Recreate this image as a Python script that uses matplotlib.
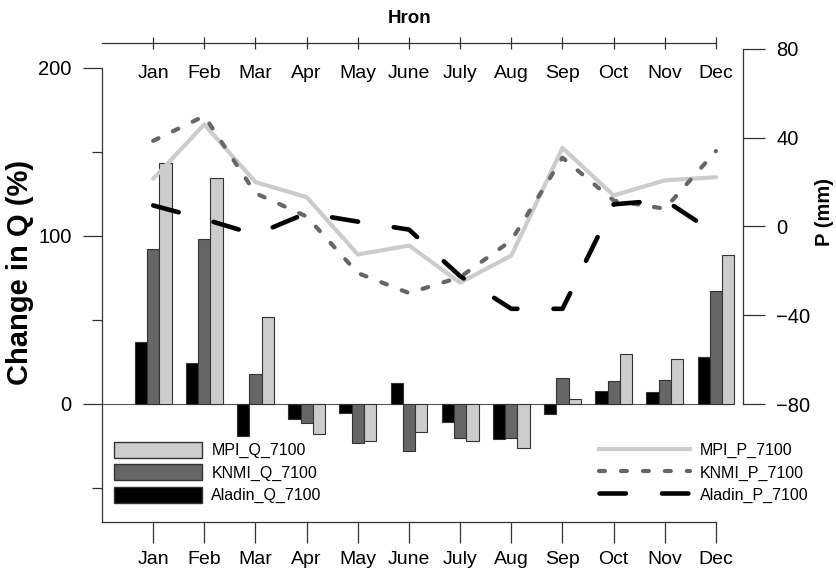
import matplotlib
matplotlib.use('Agg')
import matplotlib.pyplot as plt
from matplotlib.patches import Patch
from matplotlib.lines import Line2D
import numpy as np

plt.rcParams['font.family'] = ['Liberation Sans', 'DejaVu Sans']
plt.rcParams['lines.scale_dashes'] = False

months = ['Jan', 'Feb', 'Mar', 'Apr', 'May', 'June', 'July', 'Aug', 'Sep', 'Oct', 'Nov', 'Dec']

# change in discharge Q (%), 2071-2100
aladin_q = [37, 24.5, -19, -9, -5.5, 12.5, -10.5, -21, -6, 7.7, 7, 28]
knmi_q = [92, 98, 18, -11.5, -23.5, -28, -20, -20, 15.5, 13.7, 14.3, 67]
mpi_q = [143.5, 134.5, 51.8, -18, -22, -16.7, -22, -26, 3, 30, 26.8, 88.5]

# change in precipitation P (mm), 2071-2100
mpi_p = [21.5, 46, 20, 13.2, -12.6, -8.6, -25.3, -13.1, 35.4, 14, 20.8, 22.2]
knmi_p = [38.6, 49.8, 15, 4.5, -21, -30, -22.8, -6.3, 31, 11.7, 8, 34]
aladin_p = [9.5, 3.3, -3.6, 6, 2.2, -1.4, -22.4, -37.1, -37.1, 10, 11.9, -3.3]

x = np.arange(1, 13)
w = 0.24
edge = '#333333'

fig = plt.figure(figsize=(8.36, 5.78), dpi=100)
ax = fig.add_axes([102 / 836, 56 / 578, 641 / 836, 479 / 578])
ax.set_xlim(0, 12.528)
ax.set_ylim(-70.24, 214.88)

ax.plot([0, 12.33], [0, 0], color='#555555', lw=0.8, zorder=1)
ax.bar(x - w, aladin_q, w, color='black', edgecolor=edge, linewidth=0.8, zorder=2)
ax.bar(x, knmi_q, w, color='#666666', edgecolor=edge, linewidth=0.8, zorder=2)
ax.bar(x + w, mpi_q, w, color='#cccccc', edgecolor=edge, linewidth=0.8, zorder=2)

# left / bottom axes
for s in ['top', 'right']:
    ax.spines[s].set_visible(False)
for s in ['left', 'bottom']:
    ax.spines[s].set_color(edge)
    ax.spines[s].set_linewidth(0.9)
ax.spines['bottom'].set_bounds(0, 12)
ax.spines['left'].set_bounds(-70.24, 200)

ax.set_xticks(x, months)
ax.tick_params(axis='x', length=15, width=0.9, color=edge, pad=6, labelsize=14)
ax.set_yticks([0, 100, 200])
ax.set_yticks([-50, 50, 150], minor=True)
ax.tick_params(axis='y', which='major', length=14, width=0.9, color=edge, pad=8, labelsize=14.5)
ax.tick_params(axis='y', which='minor', length=7, width=0.9, color=edge)

# month names under the top axis
for xi, m in zip(x, months):
    ax.text(xi, 194.05, m, ha='center', va='baseline', fontsize=14)

# top axis line with ticks
axt = ax.twiny()
axt.set_xlim(ax.get_xlim())
for s in ['left', 'right', 'bottom']:
    axt.spines[s].set_visible(False)
axt.spines['top'].set_bounds(0, 12)
axt.spines['top'].set_color(edge)
axt.spines['top'].set_linewidth(0.9)
axt.set_xticks(x)
axt.tick_params(axis='x', direction='inout', length=8, width=0.9, color=edge, labeltop=False)

# precipitation on the right axis
axr = ax.twinx()
axr.set_ylim(-133.18, 82.70)
for s in ['left', 'top', 'bottom']:
    axr.spines[s].set_visible(False)
axr.spines['right'].set_bounds(-80, 80)
axr.spines['right'].set_color(edge)
axr.spines['right'].set_linewidth(0.9)
axr.set_yticks([-80, -40, 0, 40, 80])
axr.tick_params(axis='y', length=16, width=0.9, color=edge, pad=8, labelsize=14.5)

knmi_dash = (0, (4.3, 11.5))
aladin_dash = (0, (19, 26))
axr.plot(x, mpi_p, color='#cccccc', lw=3, solid_capstyle='round')
axr.plot(x, knmi_p, color='#666666', lw=3, linestyle=knmi_dash, dash_capstyle='round')
axr.plot(x, aladin_p, color='black', lw=3.3, linestyle=aladin_dash, dash_capstyle='round')

q_handles = [
    Patch(facecolor='#cccccc', edgecolor=edge, label='MPI_Q_7100'),
    Patch(facecolor='#666666', edgecolor=edge, label='KNMI_Q_7100'),
    Patch(facecolor='black', edgecolor=edge, label='Aladin_Q_7100'),
]
ax.legend(handles=q_handles, loc='upper left', bbox_to_anchor=(114 / 836, 1 - 442 / 578),
          bbox_transform=fig.transFigure, frameon=False, fontsize=11.5,
          handlelength=5.5, handleheight=1.15, handletextpad=0.6,
          labelspacing=0.37, borderpad=0, borderaxespad=0)

p_handles = [
    Line2D([], [], color='#cccccc', lw=3, label='MPI_P_7100'),
    Line2D([], [], color='#666666', lw=3, linestyle=knmi_dash, dash_capstyle='round', label='KNMI_P_7100'),
    Line2D([], [], color='black', lw=3.3, linestyle=aladin_dash, dash_capstyle='round', label='Aladin_P_7100'),
]
axr.legend(handles=p_handles, loc='upper left', bbox_to_anchor=(599 / 836, 1 - 442 / 578),
           bbox_transform=fig.transFigure, frameon=False, fontsize=11.5,
           handlelength=5.7, handleheight=1.15, handletextpad=0.6,
           labelspacing=0.37, borderpad=0, borderaxespad=0)

fig.text(410 / 836, 1 - 23 / 578, 'Hron', ha='center', va='baseline', fontsize=13.5, fontweight='bold')
fig.text(20 / 836, 1 - 272 / 578, 'Change in Q (%)', rotation=90, ha='center', va='center',
         fontsize=21, fontweight='bold')
fig.text(824 / 836, 1 - 212 / 578, 'P (mm)', rotation=90, ha='center', va='center',
         fontsize=14.5, fontweight='bold')

fig.savefig('out.png', dpi=100)
